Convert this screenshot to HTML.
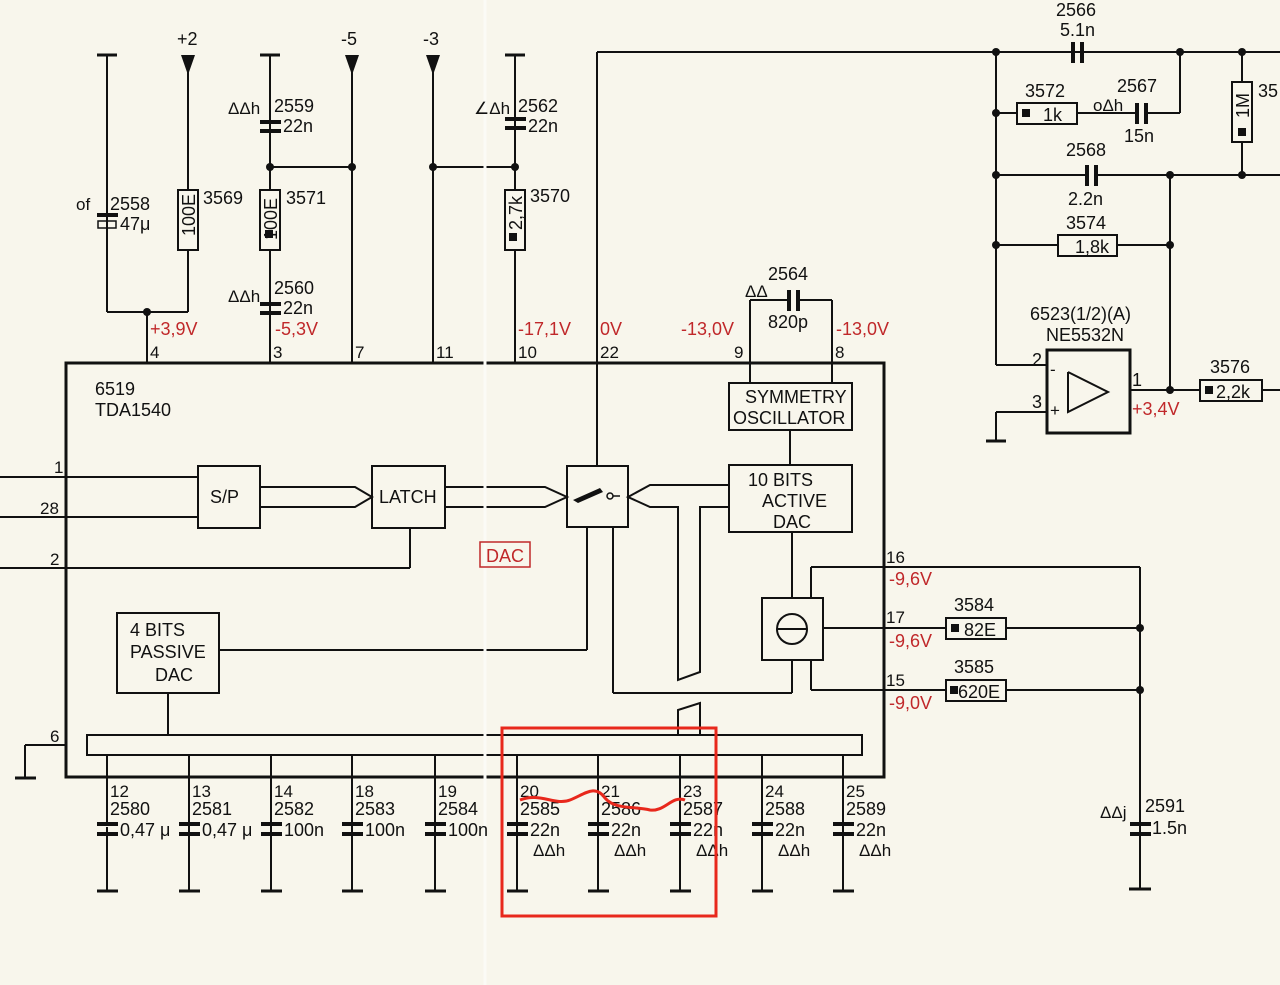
<!DOCTYPE html>
<html><head><meta charset="utf-8"><style>
html,body{margin:0;padding:0;background:#f8f6ec;}
svg{display:block;}
text{font-family:"Liberation Sans",sans-serif;font-size:18px;fill:#111;}
.r{fill:#c0282a;}
.s{font-size:17px;}
</style></head><body>
<svg width="1280" height="985" viewBox="0 0 1280 985" xmlns="http://www.w3.org/2000/svg">
<rect width="1280" height="985" fill="#f8f6ec"/>
<g stroke="#111" stroke-width="2" fill="none">
<!-- main IC -->
<rect x="66" y="363" width="818" height="414" stroke-width="3"/>
<!-- top left supply lines -->
<line x1="107" y1="55" x2="107" y2="312"/><line x1="97" y1="55" x2="117" y2="55" stroke-width="3"/>
<line x1="188" y1="60" x2="188" y2="312"/>
<line x1="107" y1="312" x2="188" y2="312"/><line x1="147" y1="312" x2="147" y2="363"/>
<line x1="270" y1="55" x2="270" y2="363"/><line x1="260" y1="55" x2="280" y2="55" stroke-width="3"/>
<line x1="352" y1="60" x2="352" y2="363"/>
<line x1="270" y1="167" x2="352" y2="167"/>
<line x1="433" y1="60" x2="433" y2="363"/>
<line x1="433" y1="167" x2="515" y2="167"/>
<line x1="515" y1="55" x2="515" y2="363"/><line x1="505" y1="55" x2="525" y2="55" stroke-width="3"/>
<line x1="597" y1="52" x2="597" y2="466"/>
<line x1="597" y1="52" x2="1280" y2="52"/>
<!-- pins 9/8 -->
<line x1="750" y1="300" x2="750" y2="383"/><line x1="832" y1="300" x2="832" y2="383"/>
<line x1="750" y1="300" x2="787" y2="300"/><line x1="796" y1="300" x2="832" y2="300"/>
<!-- right feedback network -->
<line x1="996" y1="52" x2="996" y2="365"/><line x1="996" y1="365" x2="1047" y2="365"/>
<line x1="996" y1="113" x2="1017" y2="113"/><line x1="1077" y1="113" x2="1135" y2="113"/><line x1="1144" y1="113" x2="1180" y2="113"/>
<line x1="1180" y1="52" x2="1180" y2="113"/>
<line x1="996" y1="175" x2="1085" y2="175"/><line x1="1094" y1="175" x2="1280" y2="175"/>
<line x1="996" y1="245" x2="1058" y2="245"/><line x1="1117" y1="245" x2="1170" y2="245"/>
<line x1="1170" y1="175" x2="1170" y2="390"/>
<line x1="1242" y1="52" x2="1242" y2="82"/><line x1="1242" y1="142" x2="1242" y2="175"/>
<rect x="1047" y="350" width="83" height="83" stroke-width="3"/>
<polyline points="1068,372 1068,412 1108,392 1068,372"/>
<line x1="1130" y1="390" x2="1200" y2="390"/><line x1="1262" y1="390" x2="1280" y2="390"/>
<line x1="1047" y1="412" x2="996" y2="412"/><line x1="996" y1="412" x2="996" y2="440"/>
<line x1="986" y1="441" x2="1006" y2="441" stroke-width="3"/>
<!-- resistors -->
<rect x="178" y="190" width="20" height="60" fill="#f8f6ec"/>
<rect x="260" y="190" width="20" height="60" fill="#f8f6ec"/>
<rect x="505" y="190" width="20" height="60" fill="#f8f6ec"/>
<rect x="1017" y="103" width="60" height="21" fill="#f8f6ec"/>
<rect x="1058" y="235" width="59" height="21" fill="#f8f6ec"/>
<rect x="1232" y="82" width="20" height="60" fill="#f8f6ec"/>
<rect x="1200" y="380" width="62" height="21" fill="#f8f6ec"/>
<rect x="946" y="618" width="60" height="21" fill="#f8f6ec"/>
<rect x="946" y="680" width="60" height="21" fill="#f8f6ec"/>
<!-- internal blocks -->
<rect x="198" y="466" width="62" height="62"/>
<rect x="372" y="466" width="73" height="62"/>
<rect x="567" y="466" width="61" height="61"/>
<rect x="729" y="383" width="123" height="47"/>
<rect x="729" y="465" width="123" height="67"/>
<rect x="117" y="613" width="102" height="80"/>
<rect x="762" y="598" width="61" height="62"/>
<circle cx="792" cy="629" r="15"/><line x1="777" y1="629" x2="807" y2="629"/>
<rect x="87" y="735" width="775" height="20"/>
<!-- inputs -->
<line x1="0" y1="477" x2="198" y2="477"/><line x1="0" y1="517" x2="198" y2="517"/>
<line x1="0" y1="568" x2="410" y2="568"/><line x1="410" y1="528" x2="410" y2="568"/>
<!-- double-line buses -->
<polyline points="260,487 355,487 372,497 355,507 260,507"/>
<polyline points="445,487 545,487 567,497 545,507 445,507"/>
<polyline points="729,485 650,485 628,497 650,507 678,507 678,680 700,672 700,507 729,507"/>
<line x1="613" y1="527" x2="613" y2="693"/><line x1="613" y1="693" x2="792" y2="693"/>
<line x1="792" y1="660" x2="792" y2="693"/><line x1="792" y1="532" x2="792" y2="598"/>
<line x1="790" y1="430" x2="790" y2="465"/>
<line x1="587" y1="527" x2="587" y2="650"/><line x1="219" y1="650" x2="587" y2="650"/>
<line x1="168" y1="693" x2="168" y2="735"/>
<polyline points="678,735 678,710 700,703 700,735"/>
<!-- pin 6 -->
<line x1="66" y1="745" x2="25" y2="745"/><line x1="25" y1="745" x2="25" y2="777"/>
<line x1="15" y1="778" x2="36" y2="778" stroke-width="3"/>
<!-- right pins -->
<line x1="811" y1="567" x2="1140" y2="567"/><line x1="811" y1="567" x2="811" y2="598"/>
<line x1="823" y1="628" x2="946" y2="628"/><line x1="1006" y1="628" x2="1140" y2="628"/>
<line x1="811" y1="660" x2="811" y2="690"/><line x1="811" y1="690" x2="946" y2="690"/><line x1="1006" y1="690" x2="1140" y2="690"/>
<line x1="1140" y1="567" x2="1140" y2="888"/>
<line x1="1129" y1="889" x2="1151" y2="889" stroke-width="3"/>
<!-- bottom pins -->
<g>
<line x1="107" y1="755" x2="107" y2="890"/><line x1="189" y1="755" x2="189" y2="890"/>
<line x1="271" y1="755" x2="271" y2="890"/><line x1="352" y1="755" x2="352" y2="890"/>
<line x1="435" y1="755" x2="435" y2="890"/><line x1="517" y1="755" x2="517" y2="890"/>
<line x1="598" y1="755" x2="598" y2="890"/><line x1="680" y1="755" x2="680" y2="890"/>
<line x1="762" y1="755" x2="762" y2="890"/><line x1="843" y1="755" x2="843" y2="890"/>
</g>
<g stroke-width="3">
<line x1="97" y1="891" x2="118" y2="891"/><line x1="179" y1="891" x2="200" y2="891"/>
<line x1="261" y1="891" x2="282" y2="891"/><line x1="342" y1="891" x2="363" y2="891"/>
<line x1="425" y1="891" x2="446" y2="891"/><line x1="507" y1="891" x2="528" y2="891"/>
<line x1="588" y1="891" x2="609" y2="891"/><line x1="670" y1="891" x2="691" y2="891"/>
<line x1="752" y1="891" x2="773" y2="891"/><line x1="833" y1="891" x2="854" y2="891"/>
</g>
</g>
<!-- capacitor plates (vertical lines) -->
<g fill="#111">
<g id="cv">
<rect x="97" y="823" width="21" height="4" fill="#f8f6ec"/>
</g>
</g>
<g fill="#111">
<!-- vertical-line caps: two plates -->
<rect x="97" y="822" width="21" height="4"/><rect x="97" y="832" width="21" height="4"/>
<rect x="179" y="822" width="21" height="4"/><rect x="179" y="832" width="21" height="4"/>
<rect x="261" y="822" width="21" height="4"/><rect x="261" y="832" width="21" height="4"/>
<rect x="342" y="822" width="21" height="4"/><rect x="342" y="832" width="21" height="4"/>
<rect x="425" y="822" width="21" height="4"/><rect x="425" y="832" width="21" height="4"/>
<rect x="507" y="822" width="21" height="4"/><rect x="507" y="832" width="21" height="4"/>
<rect x="588" y="822" width="21" height="4"/><rect x="588" y="832" width="21" height="4"/>
<rect x="670" y="822" width="21" height="4"/><rect x="670" y="832" width="21" height="4"/>
<rect x="752" y="822" width="21" height="4"/><rect x="752" y="832" width="21" height="4"/>
<rect x="833" y="822" width="21" height="4"/><rect x="833" y="832" width="21" height="4"/>
<rect x="1130" y="822" width="21" height="4"/><rect x="1130" y="832" width="21" height="4"/>
<rect x="260" y="120" width="21" height="4"/><rect x="260" y="129" width="21" height="4"/>
<rect x="505" y="117" width="21" height="4"/><rect x="505" y="126" width="21" height="4"/>
<rect x="260" y="302" width="21" height="4"/><rect x="260" y="311" width="21" height="4"/>
<rect x="97" y="213" width="21" height="4"/>
<!-- horizontal-line caps -->
<rect x="1071" y="42" width="4" height="21"/><rect x="1080" y="42" width="4" height="21"/>
<rect x="1135" y="103" width="4" height="21"/><rect x="1144" y="103" width="4" height="21"/>
<rect x="1085" y="165" width="4" height="21"/><rect x="1094" y="165" width="4" height="21"/>
<rect x="787" y="290" width="4" height="21"/><rect x="796" y="290" width="4" height="21"/>
<!-- arrows -->
<polygon points="181,55 195,55 188,75"/><polygon points="345,55 359,55 352,75"/><polygon points="426,55 440,55 433,75"/>
<!-- junctions -->
<circle cx="147" cy="312" r="4"/><circle cx="270" cy="167" r="4"/><circle cx="352" cy="167" r="4"/>
<circle cx="433" cy="167" r="4"/><circle cx="515" cy="167" r="4"/>
<circle cx="996" cy="52" r="4"/><circle cx="1180" cy="52" r="4"/><circle cx="1242" cy="52" r="4"/>
<circle cx="996" cy="113" r="4"/><circle cx="996" cy="175" r="4"/><circle cx="1170" cy="175" r="4"/><circle cx="1242" cy="175" r="4"/>
<circle cx="996" cy="245" r="4"/><circle cx="1170" cy="245" r="4"/><circle cx="1170" cy="390" r="4"/>
<circle cx="1140" cy="628" r="4"/><circle cx="1140" cy="690" r="4"/>
<!-- resistor squares -->
<rect x="265" y="230" width="8" height="8"/><rect x="509" y="233" width="8" height="8"/>
<rect x="1022" y="109" width="8" height="8"/><rect x="1238" y="128" width="8" height="8"/>
<rect x="1205" y="386" width="8" height="8"/><rect x="951" y="624" width="8" height="8"/><rect x="950" y="686" width="8" height="8"/>
<!-- switch -->
<polygon points="573,500 600,488 603,492 578,503"/>
</g>
<rect x="98" y="221" width="18" height="7" fill="none" stroke="#111" stroke-width="1.5"/>
<circle cx="610" cy="496" r="3" fill="none" stroke="#111" stroke-width="1.5"/>
<line x1="613" y1="496" x2="620" y2="496" stroke="#111" stroke-width="1.5"/>
<!-- scan seam -->
<line x1="485" y1="0" x2="485" y2="985" stroke="#fbfbf6" stroke-width="3"/>
<!-- texts -->
<text x="177" y="45">+2</text><text x="341" y="45">-5</text><text x="423" y="45">-3</text>
<text x="76" y="210" class="s">of</text><text x="110" y="210">2558</text><text x="120" y="230">47μ</text>
<text x="203" y="204">3569</text><text x="286" y="204">3571</text><text x="530" y="202">3570</text>
<text x="274" y="112">2559</text><text x="283" y="132">22n</text><text x="228" y="114" class="s">ΔΔh</text>
<text x="518" y="112">2562</text><text x="528" y="132">22n</text><text x="474" y="114" class="s">∠Δh</text>
<text x="274" y="294">2560</text><text x="283" y="314">22n</text><text x="228" y="302" class="s">ΔΔh</text>
<text transform="translate(195,236) rotate(-90)">100E</text>
<text transform="translate(277,240) rotate(-90)">100E</text>
<text transform="translate(522,230) rotate(-90)">2,7k</text>
<text x="150" y="335" class="r">+3,9V</text><text x="275" y="335" class="r">-5,3V</text>
<text x="518" y="335" class="r">-17,1V</text><text x="600" y="335" class="r">0V</text>
<text x="681" y="335" class="r">-13,0V</text><text x="836" y="335" class="r">-13,0V</text>
<text x="150" y="358" class="s">4</text><text x="273" y="358" class="s">3</text><text x="355" y="358" class="s">7</text>
<text x="436" y="358" class="s">11</text><text x="518" y="358" class="s">10</text><text x="600" y="358" class="s">22</text>
<text x="734" y="358" class="s">9</text><text x="835" y="358" class="s">8</text>
<text x="768" y="280">2564</text><text x="768" y="328">820p</text><text x="745" y="297" class="s">ΔΔ</text>
<text x="1056" y="16">2566</text><text x="1060" y="36">5.1n</text>
<text x="1025" y="97">3572</text><text x="1043" y="121">1k</text>
<text x="1117" y="92">2567</text><text x="1124" y="142">15n</text><text x="1093" y="111" class="s">oΔh</text>
<text x="1066" y="156">2568</text><text x="1068" y="205">2.2n</text>
<text x="1066" y="229">3574</text><text x="1075" y="253">1,8k</text>
<text transform="translate(1249,118) rotate(-90)">1M</text><text x="1258" y="97">35</text>
<text x="1030" y="320">6523(1/2)(A)</text><text x="1046" y="341">NE5532N</text>
<text x="1032" y="366">2</text><text x="1032" y="408">3</text><text x="1132" y="386">1</text>
<text x="1050" y="375" class="s">-</text><text x="1050" y="416" class="s">+</text>
<text x="1132" y="415" class="r">+3,4V</text>
<text x="1210" y="373">3576</text><text x="1216" y="398">2,2k</text>
<text x="95" y="395">6519</text><text x="95" y="416">TDA1540</text>
<text x="210" y="503">S/P</text><text x="379" y="503">LATCH</text>
<text x="745" y="403">SYMMETRY</text><text x="733" y="424">OSCILLATOR</text>
<text x="748" y="486">10 BITS</text><text x="762" y="507">ACTIVE</text><text x="773" y="528">DAC</text>
<text x="130" y="636">4 BITS</text><text x="130" y="658">PASSIVE</text><text x="155" y="681">DAC</text>
<rect x="480" y="542" width="50" height="25" fill="none" stroke="#c0282a" stroke-width="1.5"/>
<text x="486" y="562" class="r">DAC</text>
<text x="54" y="473" class="s">1</text><text x="40" y="514" class="s">28</text><text x="50" y="565" class="s">2</text><text x="50" y="742" class="s">6</text>
<text x="886" y="563" class="s">16</text><text x="886" y="623" class="s">17</text><text x="886" y="686" class="s">15</text>
<text x="889" y="585" class="r">-9,6V</text><text x="889" y="647" class="r">-9,6V</text><text x="889" y="709" class="r">-9,0V</text>
<text x="954" y="611">3584</text><text x="964" y="636">82E</text>
<text x="954" y="673">3585</text><text x="958" y="698">620E</text>
<text x="1145" y="812">2591</text><text x="1152" y="834">1.5n</text><text x="1100" y="818" class="s">ΔΔj</text>
<g>
<text x="110" y="797" class="s">12</text><text x="110" y="815">2580</text><text x="120" y="836">0,47 μ</text>
<text x="192" y="797" class="s">13</text><text x="192" y="815">2581</text><text x="202" y="836">0,47 μ</text>
<text x="274" y="797" class="s">14</text><text x="274" y="815">2582</text><text x="284" y="836">100n</text>
<text x="355" y="797" class="s">18</text><text x="355" y="815">2583</text><text x="365" y="836">100n</text>
<text x="438" y="797" class="s">19</text><text x="438" y="815">2584</text><text x="448" y="836">100n</text>
<text x="520" y="797" class="s">20</text><text x="520" y="815">2585</text><text x="530" y="836">22n</text><text x="533" y="856" class="s">ΔΔh</text>
<text x="601" y="797" class="s">21</text><text x="601" y="815">2586</text><text x="611" y="836">22n</text><text x="614" y="856" class="s">ΔΔh</text>
<text x="683" y="797" class="s">23</text><text x="683" y="815">2587</text><text x="693" y="836">22n</text><text x="696" y="856" class="s">ΔΔh</text>
<text x="765" y="797" class="s">24</text><text x="765" y="815">2588</text><text x="775" y="836">22n</text><text x="778" y="856" class="s">ΔΔh</text>
<text x="846" y="797" class="s">25</text><text x="846" y="815">2589</text><text x="856" y="836">22n</text><text x="859" y="856" class="s">ΔΔh</text>
</g>
<!-- red annotations -->
<rect x="502" y="728" width="214" height="188" fill="none" stroke="#e8281c" stroke-width="3"/>
<path d="M520,800 C540,792 555,806 570,800 C585,794 595,784 605,798 C615,810 635,806 650,810 C665,812 672,795 685,800" fill="none" stroke="#e8281c" stroke-width="3"/>
</svg>
</body></html>
